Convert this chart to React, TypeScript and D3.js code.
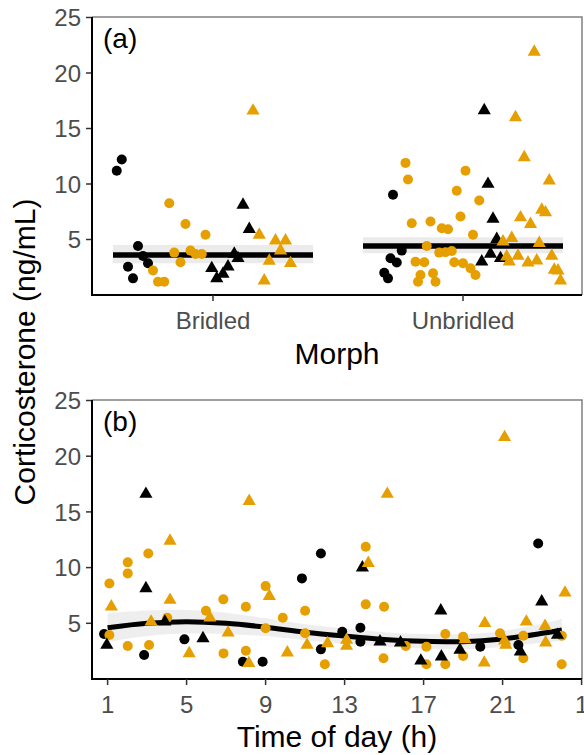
import * as d3 from "d3";

const morphs = ["Bridled", "Unbridled"];
const yTicks = [5, 10, 15, 20, 25];
const hourTicks = [1, 5, 9, 13, 17, 21, 25];
const hourTickLabels = ["1", "5", "9", "13", "17", "21", "1"];

// panel (a): [morph index, offset from morph centre, corticosterone]
type APt = [number, number, number];
const aBlackCircle: APt[] = [
  [0, -0.365, 12.2], [0, -0.385, 11.2], [0, -0.3, 4.42], [0, -0.28, 3.52],
  [0, -0.26, 2.86], [0, -0.34, 2.55], [0, -0.32, 1.5],
  [1, -0.28, 9.03], [1, -0.245, 4.0], [1, -0.29, 3.31], [1, -0.265, 2.92],
  [1, -0.315, 2.01], [1, -0.3, 1.5],
];
const aOrangeCircle: APt[] = [
  [0, -0.175, 8.27], [0, -0.11, 6.4], [0, -0.03, 5.42], [0, -0.155, 3.82],
  [0, -0.09, 4.0], [0, -0.07, 3.7], [0, -0.045, 3.7], [0, -0.13, 2.95],
  [0, -0.24, 2.2], [0, -0.22, 1.2], [0, -0.195, 1.2],
  [1, -0.23, 11.9], [1, -0.22, 10.4], [1, 0.01, 11.2], [1, -0.025, 9.39],
  [1, 0.065, 8.51], [1, -0.01, 7.07], [1, -0.205, 6.47], [1, -0.13, 6.62],
  [1, -0.085, 6.02], [1, -0.06, 5.93], [1, 0.04, 5.42], [1, -0.145, 4.42],
  [1, -0.095, 3.82], [1, -0.07, 3.85], [1, -0.045, 3.97], [1, -0.19, 3.0],
  [1, -0.155, 2.95], [1, -0.035, 2.95], [1, 0.0, 2.86], [1, 0.03, 2.41],
  [1, 0.05, 1.8], [1, -0.17, 1.8], [1, -0.12, 1.96], [1, -0.18, 1.2],
  [1, -0.11, 1.2],
];
const aBlackTriangle: APt[] = [
  [0, 0.12, 8.12], [0, 0.145, 5.93], [0, 0.085, 3.7], [0, 0.1, 3.31],
  [0, -0.005, 2.41], [0, 0.06, 2.55], [0, 0.04, 1.9], [0, 0.015, 1.5],
  [1, 0.085, 16.63], [1, 0.1, 10.0], [1, 0.12, 6.86], [1, 0.135, 5.03],
  [1, 0.11, 3.7], [1, 0.075, 3.0], [1, 0.15, 3.31],
];
const aOrangeTriangle: APt[] = [
  [0, 0.16, 16.6], [0, 0.185, 5.42], [0, 0.25, 4.9], [0, 0.29, 4.9],
  [0, 0.27, 4.0], [0, 0.225, 3.07], [0, 0.31, 2.86], [0, 0.205, 1.29],
  [1, 0.285, 21.9], [1, 0.21, 16.0], [1, 0.245, 12.4], [1, 0.345, 10.3],
  [1, 0.315, 7.67], [1, 0.33, 7.43], [1, 0.23, 6.98], [1, 0.27, 6.38],
  [1, 0.16, 4.81], [1, 0.195, 5.12], [1, 0.305, 4.67], [1, 0.175, 3.46],
  [1, 0.22, 3.52], [1, 0.185, 3.0], [1, 0.26, 2.92], [1, 0.295, 3.1],
  [1, 0.355, 3.52], [1, 0.365, 2.26], [1, 0.38, 2.2], [1, 0.39, 1.29],
];
const morphMean = [3.6, 4.42];
const morphLower = [2.86, 3.76];
const morphUpper = [4.51, 5.2];

// panel (b): [hour, corticosterone]
type BPt = [number, number];
const bBlackCircle: BPt[] = [
  [0.82, 4.04], [11.8, 11.27], [10.84, 9.03], [2.85, 2.15], [4.89, 3.56],
  [7.85, 1.55], [8.85, 1.55], [11.8, 2.66], [22.8, 12.17], [13.8, 4.6],
  [12.88, 4.24], [13.8, 3.35], [19.87, 2.9], [21.8, 3.05],
];
const bBlackTriangle: BPt[] = [
  [2.94, 16.6], [2.94, 8.13], [3.9, 5.14], [0.96, 3.05], [5.83, 3.65],
  [13.9, 10.0], [17.87, 6.13], [22.98, 6.94], [14.79, 3.35], [15.83, 3.26],
  [16.86, 1.64], [17.9, 2.0], [18.84, 2.6], [21.9, 2.45], [23.78, 3.95],
];
const bOrangeCircle: BPt[] = [
  [3.06, 11.27], [2.02, 10.47], [2.02, 9.48], [1.09, 8.58], [9.0, 8.34],
  [6.86, 7.15], [8.0, 6.49], [5.98, 6.13], [11.0, 6.13], [9.87, 5.5],
  [4.02, 5.5], [9.0, 4.55], [11.0, 4.1], [1.09, 3.95], [14.07, 11.87],
  [14.07, 6.7], [15.0, 6.49], [18.1, 4.04], [19.0, 3.8], [20.87, 4.1],
  [22.05, 3.89], [24.0, 3.89], [2.02, 2.96], [3.1, 3.05], [6.87, 2.3],
  [8.0, 2.54], [12.0, 1.32], [14.97, 1.86], [16.1, 2.96], [17.14, 2.9],
  [17.14, 1.32], [18.1, 1.32], [19.0, 2.06], [22.05, 1.86], [23.99, 1.32],
];
const bOrangeTriangle: BPt[] = [
  [8.17, 15.96], [4.16, 12.4], [9.19, 7.44], [4.16, 7.09], [1.19, 6.49],
  [6.18, 5.5], [3.2, 5.14], [7.1, 4.15], [21.1, 21.7], [15.16, 16.6],
  [14.2, 10.4], [24.16, 7.74], [20.1, 5.0], [22.2, 5.14], [23.15, 4.75],
  [5.13, 2.3], [8.15, 1.41], [10.1, 2.36], [11.1, 3.05], [12.14, 3.2],
  [13.1, 3.5], [13.1, 2.96], [19.1, 3.56], [20.07, 1.46], [21.1, 3.44],
  [21.16, 3.05], [23.18, 3.26],
];
// loess fit over time of day
const smoothHours = [1, 3, 5, 7, 9, 11, 13, 15, 17, 19, 21, 23, 24];
const smoothFit = [4.6, 5.0, 5.15, 5.0, 4.65, 4.2, 3.85, 3.55, 3.38, 3.35, 3.6, 4.1, 4.4];
const smoothSE = [1.3, 1.15, 1.05, 0.95, 0.8, 0.72, 0.68, 0.65, 0.65, 0.68, 0.72, 0.85, 1.0];

const W = 584;
const H = 755;
const left = 92;
const right = 582;
const ORANGE = "#E69F00";
const FONT = "'Liberation Sans', Arial, sans-serif";

const triangle = d3.symbol(d3.symbolTriangle, 75)() ?? "";

const Frame = ({ y, top, bottom }: { y: d3.ScaleLinear<number, number>; top: number; bottom: number }) => (
  <g>
    <path d={`M${left},${top}H${right}V${bottom}`} fill="none" stroke="#808080" strokeWidth={1.5} />
    {yTicks.map((t) => (
      <g key={t}>
        <line x1={left - 6} x2={left} y1={y(t)} y2={y(t)} stroke="#333" strokeWidth={1.5} />
        <text x={left - 11} y={y(t)} dy="0.36em" textAnchor="end" fontSize={24} fill="#4D4D4D">
          {t}
        </text>
      </g>
    ))}
    <path d={`M${left},${top}V${bottom}H${right}`} fill="none" stroke="#000" strokeWidth={2} />
  </g>
);

const Marks = ({ pts, shape, color }: { pts: [number, number][]; shape: "circle" | "triangle"; color: string }) => (
  <g fill={color}>
    {pts.map(([x, y], i) =>
      shape === "circle" ? (
        <circle key={i} cx={x} cy={y} r={5} />
      ) : (
        <path key={i} d={triangle} transform={`translate(${x},${y})`} />
      )
    )}
  </g>
);

const App = () => {
  const ya = d3.scaleLinear().domain([0, 25]).range([295, 17.5]);
  const xa = d3.scaleLinear().domain([0.516, 2.476]).range([left, right]);
  const yb = d3.scaleLinear().domain([0, 25]).range([679, 400.5]);
  const xb = d3.scaleLinear().domain([0.21, 25.02]).range([left, right]);

  const aPos = (d: APt): [number, number] => [xa(d[0] + 1 + d[1]), ya(d[2])];
  const bPos = (d: BPt): [number, number] => [xb(d[0]), yb(d[1])];

  const idx = d3.range(smoothHours.length);
  const line = d3
    .line<number>()
    .x((i) => xb(smoothHours[i]))
    .y((i) => yb(smoothFit[i]))
    .curve(d3.curveCatmullRom);
  const band = d3
    .area<number>()
    .x((i) => xb(smoothHours[i]))
    .y0((i) => yb(smoothFit[i] - smoothSE[i]))
    .y1((i) => yb(smoothFit[i] + smoothSE[i]))
    .curve(d3.curveCatmullRom);

  return (
    <svg
      width={W}
      height={H}
      viewBox={`0 0 ${W} ${H}`}
      style={{ position: "absolute", left: 0, top: 0, background: "#fff" }}
      fontFamily={FONT}
    >
      {/* panel (a) */}
      <Frame y={ya} top={17} bottom={295} />
      {morphs.map((m, i) => (
        <g key={m}>
          <rect
            x={xa(i + 1 - 0.4)}
            width={xa(i + 1.4) - xa(i + 0.6)}
            y={ya(morphUpper[i])}
            height={ya(morphLower[i]) - ya(morphUpper[i])}
            fill="#EBEBEB"
          />
          <line
            x1={xa(i + 1 - 0.4)}
            x2={xa(i + 1.4)}
            y1={ya(morphMean[i])}
            y2={ya(morphMean[i])}
            stroke="#000"
            strokeWidth={5.5}
          />
          <line x1={xa(i + 1)} x2={xa(i + 1)} y1={295} y2={301} stroke="#333" strokeWidth={1.5} />
          <text x={xa(i + 1)} y={329} textAnchor="middle" fontSize={24} fill="#4D4D4D">
            {m}
          </text>
        </g>
      ))}
      <Marks pts={aBlackCircle.map(aPos)} shape="circle" color="#000" />
      <Marks pts={aOrangeCircle.map(aPos)} shape="circle" color={ORANGE} />
      <Marks pts={aBlackTriangle.map(aPos)} shape="triangle" color="#000" />
      <Marks pts={aOrangeTriangle.map(aPos)} shape="triangle" color={ORANGE} />
      <text x={103} y={48} fontSize={28}>(a)</text>
      <text x={(left + right) / 2} y={364} textAnchor="middle" fontSize={30}>Morph</text>

      {/* panel (b) */}
      <Frame y={yb} top={400} bottom={679} />
      <path d={band(idx) ?? ""} fill="#EBEBEB" opacity={0.85} />
      <path d={line(idx) ?? ""} fill="none" stroke="#000" strokeWidth={5} />
      {hourTicks.map((h, i) => (
        <g key={h}>
          <line x1={xb(h)} x2={xb(h)} y1={679} y2={685} stroke="#333" strokeWidth={1.5} />
          <text x={xb(h)} y={713} textAnchor="middle" fontSize={24} fill="#4D4D4D">
            {hourTickLabels[i]}
          </text>
        </g>
      ))}
      <Marks pts={bBlackCircle.map(bPos)} shape="circle" color="#000" />
      <Marks pts={bOrangeCircle.map(bPos)} shape="circle" color={ORANGE} />
      <Marks pts={bBlackTriangle.map(bPos)} shape="triangle" color="#000" />
      <Marks pts={bOrangeTriangle.map(bPos)} shape="triangle" color={ORANGE} />
      <text x={103} y={431} fontSize={28}>(b)</text>
      <text x={(left + right) / 2} y={747} textAnchor="middle" fontSize={30}>Time of day (h)</text>

      <text transform="translate(35,352) rotate(-90)" textAnchor="middle" fontSize={30}>
        Corticosterone (ng/mL)
      </text>
    </svg>
  );
};

export default App;
